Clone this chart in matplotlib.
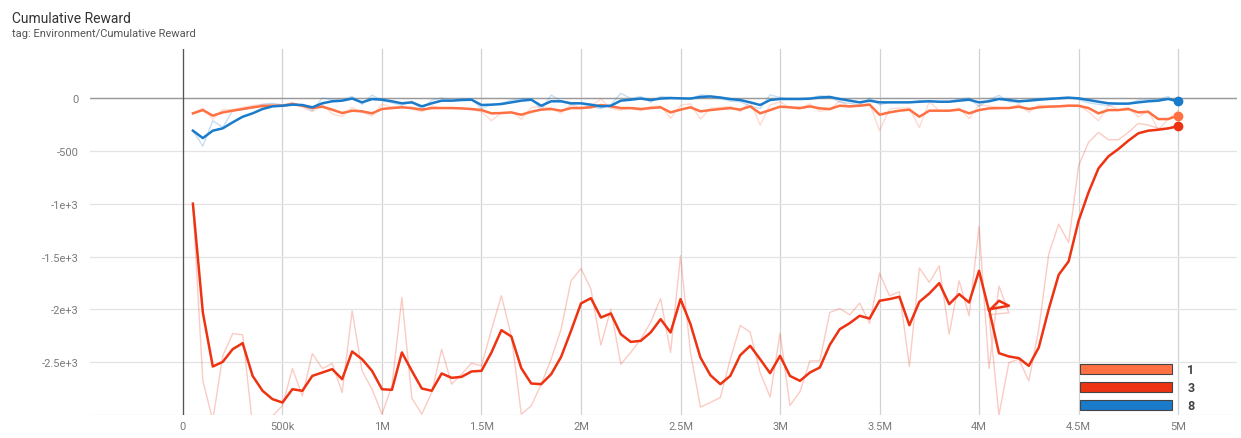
import numpy as np
import matplotlib.pyplot as plt
from matplotlib.patches import Patch

plt.rcParams['font.family'] = ['Roboto', 'DejaVu Sans']

# logged every 50k steps
steps = np.arange(50_000, 5_000_001, 50_000)

# run "1" (orange)
run1_raw = [-145, -95, -200, -110, -110, -90, -70, -60, -60, -70,
            -40, -85, -130, -60, -150, -175, -90, -135, -170, -60,
            -85, -80, -105, -130, -75, -95, -95, -100, -110, -130,
            -215, -140, -130, -199, -90, -80, -95, -145, -60, -95,
            -75, -10, -100, -115, -95, -120, -80, -75, -192, -70,
            -55, -199, -95, -90, -80, -130, -30, -256, -65, -35,
            -95, -105, -55, -125, -110, -25, -85, -65, -50, -310,
            -105, -95, -95, -280, -35, -120, -120, -95, -195, -65,
            -75, -90, -95, -60, -135, -65, -75, -75, -65, -70,
            -130, -215, -70, -110, -90, -180, -120, -300, -200, -120]
run1_smooth = [-145, -114, -167, -136, -120, -104, -88, -76, -73, -73,
               -57, -73, -95, -82, -110, -142, -120, -126, -145, -104,
               -95, -88, -95, -110, -95, -95, -95, -98, -104, -114,
               -145, -142, -136, -158, -130, -110, -104, -120, -95, -95,
               -88, -66, -79, -95, -95, -104, -95, -88, -136, -110,
               -88, -126, -114, -104, -95, -110, -79, -145, -114, -82,
               -88, -95, -79, -98, -104, -73, -79, -73, -63, -158,
               -136, -120, -110, -177, -120, -120, -120, -110, -145, -114,
               -98, -95, -95, -82, -104, -88, -82, -79, -73, -73,
               -95, -145, -114, -114, -104, -136, -130, -199, -199, -167]

# run "8" (blue)
run8_raw = [-309, -455, -215, -278, -120, -110, -95, -60, -50, -65,
            -50, -70, -120, 0, -15, -20, 16, -60, 28, -25,
            -45, -70, -30, -105, -20, 0, -25, -10, -10, -100,
            -60, -50, -20, -5, -5, -110, 28, -30, -65, -50,
            -80, -100, -65, 45, -5, 15, -40, 15, 5, -5,
            -8, 30, 20, -5, -30, -35, -75, -100, 30, 5,
            -10, -10, 0, 20, 15, -40, -50, -65, 0, -65,
            -40, -40, -40, -25, -25, -40, -35, -10, 0, -80,
            -15, 25, -35, -45, -15, -5, 0, 5, 10, -15,
            -45, -60, -70, -55, -55, -20, -15, -15, 15, -65]
run8_smooth = [-309, -379, -309, -287, -230, -177, -145, -104, -79, -73,
               -63, -66, -88, -50, -31, -25, -5, -41, -10, -16,
               -31, -50, -41, -79, -50, -25, -25, -19, -16, -66,
               -63, -57, -41, -25, -16, -73, -31, -31, -50, -50,
               -63, -79, -73, -25, -16, -5, -19, -5, 0, -3,
               -5, 10, 15, 5, -10, -19, -41, -66, -19, -9,
               -9, -9, -6, 5, 10, -9, -25, -41, -25, -41,
               -41, -41, -41, -35, -31, -35, -35, -25, -16, -41,
               -31, -9, -19, -31, -25, -16, -9, -3, 3, -3,
               -19, -35, -50, -53, -53, -41, -31, -25, -9, -31]

# run "3" (red): stopped at 4.15M and resumed from the 4.05M checkpoint
run3_steps = np.concatenate([steps[:83], steps[80:]])
run3_raw = [-1000, -2677, -3050, -2440, -2229, -2241, -3100, -3100, -3010, -2910,
            -2560, -2819, -2418, -2560, -2513, -2787, -2014, -2582, -2756, -2992,
            -2724, -1887, -2840, -2992, -2787, -2377, -2708, -2614, -2509, -2535,
            -2194, -1872, -2250, -2992, -2913, -2708, -2472, -2188, -1730, -1613,
            -1809, -2339, -1998, -2519, -2408, -2282, -2124, -1897, -2408, -1493,
            -2408, -2925, -2882, -2834, -2472, -2153, -2216, -2598, -2830, -2225,
            -2910, -2780, -2488, -2488, -2030, -1992, -2052, -1941, -2131, -1657,
            -1872, -1834, -2541, -1608, -1745, -1588, -2235, -1730, -2061, -1215,
            -2560, -1780, -2033,
            -2050, -3000, -2503, -2472, -2677, -2188, -1477, -1193, -1367, -641,
            -420, -325, -395, -395, -325, -240, -256, -287, -290, -240]
run3_smooth = [-1000, -2030, -2541, -2497, -2377, -2320, -2630, -2771, -2850, -2882,
               -2756, -2771, -2630, -2598, -2566, -2661, -2399, -2472, -2582, -2756,
               -2762, -2408, -2582, -2749, -2771, -2607, -2648, -2639, -2588, -2582,
               -2408, -2197, -2257, -2557, -2702, -2708, -2614, -2450, -2203, -1944,
               -1894, -2077, -2039, -2235, -2308, -2298, -2219, -2093, -2219, -1903,
               -2140, -2456, -2623, -2708, -2630, -2434, -2345, -2472, -2604, -2440,
               -2630, -2677, -2598, -2550, -2336, -2188, -2131, -2061, -2087, -1919,
               -1903, -1881, -2150, -1929, -1850, -1752, -1951, -1856, -1935, -1635,
               -2014, -1919, -1966,
               -2000, -2415, -2446, -2462, -2535, -2361, -1998, -1673, -1546, -1162,
               -893, -666, -552, -483, -404, -334, -309, -300, -287, -268]

run_names = ['1', '3', '8']
run_colors = ['#ff7043', '#ee3312', '#1a7bcb']

yticks = [-3000, -2500, -2000, -1500, -1000, -500, 0]
ytick_labels = ['', '-2.5e+3', '-2e+3', '-1.5e+3', '-1e+3', '-500', '0']
xticks = np.arange(0, 5_000_001, 500_000)
xtick_labels = ['0', '500k', '1M', '1.5M', '2M', '2.5M', '3M', '3.5M', '4M', '4.5M', '5M']

fig = plt.figure(figsize=(12.41, 4.39), dpi=100)
ax = fig.add_axes([90 / 1241, 23 / 439, 1147 / 1241, 366 / 439])
ax.set_axisbelow(True)

runs = [(steps, run1_raw, run1_smooth),
        (run3_steps, run3_raw, run3_smooth),
        (steps, run8_raw, run8_smooth)]

for (x, raw, smooth), c in zip(runs, run_colors):
    ax.plot(x, raw, color=c, lw=1.0, alpha=0.25, zorder=2)
for (x, raw, smooth), c in zip(runs, run_colors):
    ax.plot(x, smooth, color=c, lw=1.8, zorder=3)
    ax.plot(x[-1], smooth[-1], 'o', color=c, ms=6, zorder=4, clip_on=False)

ax.set_xlim(-467_000, 5_296_000)
ax.set_ylim(-3000, 464)
ax.set_xticks(xticks)
ax.set_xticklabels(xtick_labels)
ax.set_yticks(yticks)
ax.set_yticklabels(ytick_labels)
ax.tick_params(length=0, labelsize=8, labelcolor='#7a7a7a')
ax.tick_params(axis='y', pad=8)
ax.tick_params(axis='x', pad=4)
for s in ax.spines.values():
    s.set_visible(False)

ax.grid(axis='y', color='#e3e3e3', lw=0.9)
ax.grid(axis='x', color='#d2d2d2', lw=0.9)
ax.axhline(0, color='#9a9a9a', lw=1.0, zorder=1)
ax.axvline(0, color='#555555', lw=0.9, zorder=1)

handles = [Patch(facecolor=c, edgecolor='#444444', lw=0.8) for c in run_colors]
ax.legend(handles, run_names, loc='upper left', bbox_to_anchor=(0.863, 0.142),
          frameon=False, borderpad=0, borderaxespad=0,
          handlelength=7.4, handleheight=0.85, handletextpad=1.2,
          labelspacing=0.4, prop={'size': 9, 'weight': 'bold'},
          labelcolor='#444444')

fig.text(12 / 1241, 1 - 23 / 439, 'Cumulative Reward', fontsize=10, color='#333333')
fig.text(12 / 1241, 1 - 37 / 439, 'tag: Environment/Cumulative Reward',
         fontsize=8, color='#555555')

fig.savefig('out.png', dpi=100)
